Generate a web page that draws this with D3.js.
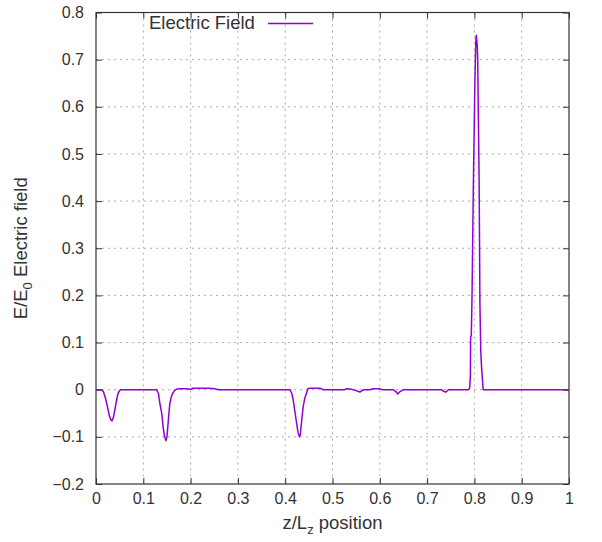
<!doctype html>
<html>
<head>
<meta charset="utf-8">
<title>Electric Field</title>
<script src="https://d3js.org/d3.v7.min.js"></script>
<style>
  body { margin: 0; background: #fff; }
  text { font-family: "Liberation Sans", Arial, sans-serif; fill: #333; }
</style>
</head>
<body>
<div id="chart"></div>
<script>
// position along z (z/Lz) and normalised field E/E0
var zPos = [0, 0.012, 0.016, 0.020, 0.024, 0.028, 0.032, 0.034, 0.037, 0.040, 0.043, 0.046, 0.049, 0.052,
  0.128, 0.132, 0.135, 0.139, 0.142, 0.145, 0.148, 0.150, 0.153, 0.156, 0.159, 0.162, 0.166, 0.170,
  0.175, 0.190, 0.200, 0.205, 0.240, 0.250, 0.260,
  0.410, 0.414, 0.417, 0.421, 0.424, 0.427, 0.430, 0.432, 0.435, 0.438, 0.441, 0.444, 0.448, 0.452,
  0.474, 0.480, 0.525, 0.530, 0.540, 0.550, 0.558, 0.566, 0.580, 0.585, 0.600, 0.605,
  0.628, 0.634, 0.638, 0.643, 0.650, 0.730, 0.736, 0.740, 0.745,
  0.787, 0.790, 0.7915, 0.792, 0.7935, 0.795, 0.798, 0.801, 0.803, 0.804, 0.806, 0.807, 0.810,
  0.8117, 0.8135, 0.815, 0.8185, 0.83, 1];
var eField = [0, 0, -0.005, -0.018, -0.035, -0.055, -0.065, -0.066, -0.058, -0.042, -0.025, -0.010, -0.003, 0,
  0, -0.008, -0.029, -0.050, -0.080, -0.100, -0.108, -0.100, -0.064, -0.030, -0.016, -0.008, -0.002, 0.001,
  0.002, 0.002, 0.001, 0.003, 0.003, 0.002, 0,
  0, -0.008, -0.022, -0.050, -0.070, -0.090, -0.100, -0.095, -0.064, -0.036, -0.020, -0.010, 0.002, 0.003,
  0.003, 0, 0, 0.002, 0.001, -0.002, -0.005, 0, 0, 0.002, 0.002, 0,
  0, -0.004, -0.009, -0.004, 0, 0, -0.004, -0.005, 0,
  0, 0.003, 0.03, 0.112, 0.115, 0.2, 0.45, 0.65, 0.74, 0.752, 0.73, 0.70, 0.44,
  0.18, 0.08, 0.05, 0, 0, 0];

var xTicks = [0, 0.1, 0.2, 0.3, 0.4, 0.5, 0.6, 0.7, 0.8, 0.9, 1];
var yTicks = [-0.2, -0.1, 0, 0.1, 0.2, 0.3, 0.4, 0.5, 0.6, 0.7, 0.8];

var W = 602, H = 542;
var margin = {top: 12.5, right: 33, bottom: 58, left: 96};
var width = W - margin.left - margin.right,
    height = H - margin.top - margin.bottom;

var svg = d3.select("#chart").append("svg")
    .attr("width", W).attr("height", H);
var g = svg.append("g")
    .attr("transform", "translate(" + margin.left + "," + margin.top + ")");

var x = d3.scaleLinear().domain([0, 1]).range([0, width]);
var y = d3.scaleLinear().domain([-0.2, 0.8]).range([height, 0]);

// grid
g.append("g").selectAll("line").data(xTicks.slice(1, -1)).enter().append("line")
    .attr("x1", function(d){ return x(d); }).attr("x2", function(d){ return x(d); })
    .attr("y1", 0).attr("y2", height)
    .attr("stroke", "#aaa").attr("stroke-dasharray", "2,4");
g.append("g").selectAll("line").data(yTicks.slice(1, -1)).enter().append("line")
    .attr("y1", function(d){ return y(d); }).attr("y2", function(d){ return y(d); })
    .attr("x1", 0).attr("x2", width)
    .attr("stroke", "#aaa").attr("stroke-dasharray", "2,4");

// axes with inward ticks, mirrored
function styleAxis(sel) {
  sel.select(".domain").remove();
  sel.selectAll(".tick line").attr("stroke", "#333");
  sel.selectAll(".tick text").style("font-size", "16px")
    .style("font-family", "'Liberation Sans', Arial, sans-serif").attr("fill", "#333");
}
g.append("g").attr("transform", "translate(0," + height + ")")
    .call(d3.axisBottom(x).tickValues(xTicks).tickFormat(d3.format("")).tickSizeInner(-6).tickPadding(9))
    .call(styleAxis);
g.append("g")
    .call(d3.axisTop(x).tickValues(xTicks).tickFormat("").tickSizeInner(-6))
    .call(styleAxis);
g.append("g")
    .call(d3.axisLeft(y).tickValues(yTicks).tickFormat(d3.format("")).tickSizeInner(-6).tickPadding(12))
    .call(styleAxis);
g.append("g").attr("transform", "translate(" + width + ",0)")
    .call(d3.axisRight(y).tickValues(yTicks).tickFormat("").tickSizeInner(-6))
    .call(styleAxis);

g.append("rect").attr("width", width).attr("height", height)
    .attr("fill", "none").attr("stroke", "#333").attr("stroke-width", 1.2);

// curve
var pts = zPos.map(function(d, i){ return [d, eField[i]]; });
var line = d3.line().x(function(d){ return x(d[0]); }).y(function(d){ return y(d[1]); });
g.append("path").datum(pts)
    .attr("d", line)
    .attr("fill", "none").attr("stroke", "#9400d3").attr("stroke-width", 1.5)
    .attr("stroke-linejoin", "round");

// legend
g.append("text").attr("x", 53).attr("y", 16.5)
    .style("font-size", "18.5px").text("Electric Field");
g.append("line").attr("x1", 172).attr("x2", 217).attr("y1", 11).attr("y2", 11)
    .attr("stroke", "#9400d3").attr("stroke-width", 1.5);

// axis titles
var xl = svg.append("text").attr("x", margin.left + width / 2).attr("y", 529)
    .attr("text-anchor", "middle").style("font-size", "18.5px");
xl.append("tspan").text("z/L");
xl.append("tspan").attr("dy", 5).style("font-size", "13px").text("z");
xl.append("tspan").attr("dy", -5).text(" position");

var yl = svg.append("text")
    .attr("transform", "translate(27," + (margin.top + height / 2) + ") rotate(-90)")
    .attr("text-anchor", "middle").style("font-size", "18.5px");
yl.append("tspan").text("E/E");
yl.append("tspan").attr("dy", 5).style("font-size", "13px").text("0");
yl.append("tspan").attr("dy", -5).text(" Electric field");
</script>
</body>
</html>
